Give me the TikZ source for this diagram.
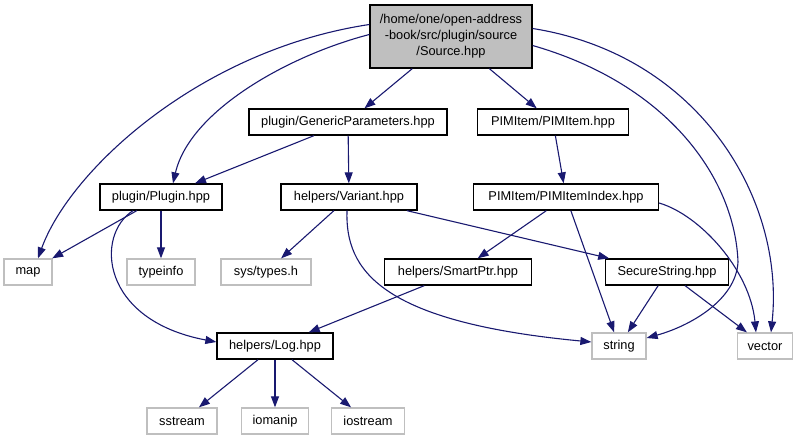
\documentclass[tikz,border=0pt]{standalone}
\usepackage{fontspec}
\setmainfont{Liberation Sans}
\usepackage{tikz}
\usetikzlibrary{arrows.meta}
\definecolor{edgeblue}{HTML}{191970}
\definecolor{sysgray}{HTML}{BFBFBF}
\tikzset{
    box/.style={draw=black, line width=1.3pt, fill=white, inner sep=0pt, minimum height=26pt, font=\fontsize{12.8}{16}\selectfont},
    sysbox/.style={box, draw=sysgray},
    rootbox/.style={box, fill=sysgray, align=center, minimum height=63pt},
    arr/.style={-{Triangle[length=11pt,width=8pt]}, line width=1.1pt, draw=edgeblue}
}

\begin{document}
\begin{tikzpicture}[x=1pt, y=-1pt]
    \useasboundingbox (0,0) rectangle (801,440);

    \node[rootbox, minimum width=162pt] (source) at (451,36.5) {/home/one/open-address\\-book/src/plugin/source\\/Source.hpp};

    \node[box, minimum width=198pt] (genparams) at (348,122) {plugin/GenericParameters.hpp};
    \node[box, minimum width=151pt] (pimitem) at (553,122) {PIMItem/PIMItem.hpp};

    \node[box, minimum width=122pt] (plugin) at (161,197) {plugin/Plugin.hpp};
    \node[box, minimum width=136pt] (variant) at (349,197) {helpers/Variant.hpp};
    \node[box, minimum width=185pt] (pimindex) at (566,197) {PIMItem/PIMItemIndex.hpp};

    \node[sysbox, minimum width=48pt] (map) at (28,272) {map};
    \node[sysbox, minimum width=68pt] (typeinfo) at (161,272) {typeinfo};
    \node[sysbox, minimum width=90pt] (systypes) at (266,272) {sys/types.h};
    \node[box, minimum width=147pt] (smartptr) at (458,272) {helpers/SmartPtr.hpp};
    \node[box, minimum width=123pt] (securestr) at (667,272) {SecureString.hpp};

    \node[box, minimum width=116pt] (log) at (275,346) {helpers/Log.hpp};
    \node[sysbox, minimum width=54pt] (string) at (619,346) {string};
    \node[sysbox, minimum width=55pt] (vector) at (765,346) {vector};

    \node[sysbox, minimum width=70pt] (sstream) at (182,421) {sstream};
    \node[sysbox, minimum width=67pt] (iomanip) at (275,421) {iomanip};
    \node[sysbox, minimum width=73pt] (iostream) at (368,421) {iostream};

    % includes of Source.hpp
    \draw[arr] (source) -- (genparams);
    \draw[arr] (source) -- (pimitem);
    \draw[arr] ([yshift=12pt]source.west) .. controls (200,50) and (70,170) .. ([xshift=10pt]map.north);
    \draw[arr] ([yshift=2pt]source.west) .. controls (290,55) and (190,110) .. ([xshift=12pt]plugin.north);
    \draw[arr] ([yshift=-9pt]source.east) .. controls (670,85) and (735,180) .. (738,262) .. controls (736,300) and (690,326) .. ([yshift=8pt]string.east);
    \draw[arr] ([yshift=8pt]source.east) .. controls (700,55) and (785,200) .. ([xshift=6pt]vector.north);

    \draw[arr] (genparams) -- (plugin);
    \draw[arr] (genparams) -- (variant);
    \draw[arr] (pimitem) -- (pimindex);

    \draw[arr] (plugin) -- (map);
    \draw[arr] (plugin) -- (typeinfo);
    \draw[arr] ([xshift=-28pt]plugin.south) .. controls (95,235) and (100,320) .. ([yshift=4pt]log.west);

    \draw[arr] (variant) -- (systypes);
    \draw[arr] (variant) -- (securestr);
    \draw[arr] ([xshift=-2pt]variant.south) .. controls (345,270) and (380,322) .. ([yshift=4pt]string.west);

    \draw[arr] (pimindex) -- (smartptr);
    \draw[arr] (pimindex) -- (string);
    \draw[arr] ([yshift=-6pt]pimindex.east) .. controls (700,215) and (750,270) .. ([xshift=-9pt]vector.north);

    \draw[arr] (smartptr) -- (log);
    \draw[arr] (securestr) -- (string);
    \draw[arr] (securestr) -- (vector);

    \draw[arr] (log) -- (sstream);
    \draw[arr] (log) -- (iomanip);
    \draw[arr] (log) -- (iostream);
\end{tikzpicture}
\end{document}
